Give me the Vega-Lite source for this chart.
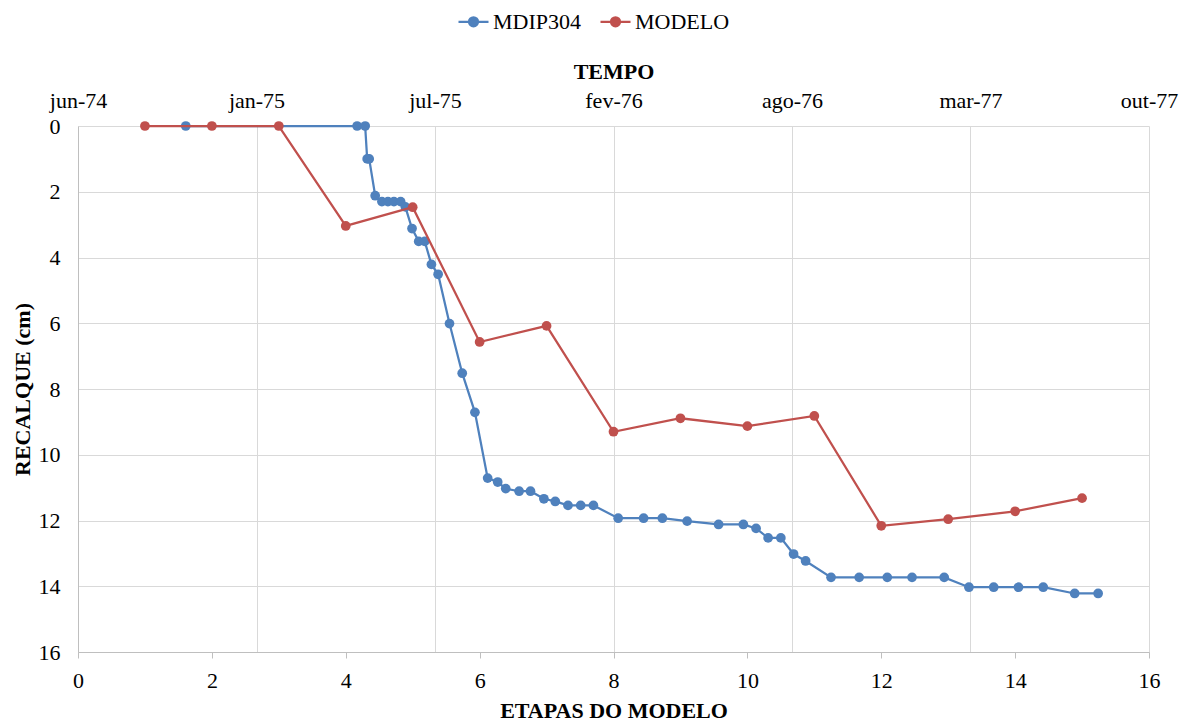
{
  "$schema": "https://vega.github.io/schema/vega-lite/v6.json",
  "width": 1071,
  "height": 526,
  "autosize": "none",
  "padding": {"left": 78, "top": 126, "right": 41, "bottom": 70},
  "background": "white",
  "config": {
    "view": {"stroke": null},
    "font": "'Liberation Serif', 'Times New Roman', 'DejaVu Serif', serif",
    "axis": {
      "labelFont": "'Liberation Serif', 'Times New Roman', 'DejaVu Serif', serif",
      "titleFont": "'Liberation Serif', 'Times New Roman', 'DejaVu Serif', serif",
      "labelFontSize": 22,
      "titleFontSize": 22,
      "labelColor": "#000000",
      "titleColor": "#000000",
      "gridColor": "#D9D9D9",
      "gridWidth": 1,
      "domainColor": "#BFBFBF",
      "tickColor": "#BFBFBF"
    },
    "legend": {
      "labelFont": "'Liberation Serif', 'Times New Roman', 'DejaVu Serif', serif"
    }
  },
  "datasets": {
    "mdip": [
      {"etapa": 1.61, "recalque": 0, "serie": "MDIP304"},
      {"etapa": 4.17, "recalque": 0, "serie": "MDIP304"},
      {"etapa": 4.29, "recalque": 0, "serie": "MDIP304"},
      {"etapa": 4.32, "recalque": 1.0, "serie": "MDIP304"},
      {"etapa": 4.35, "recalque": 1.0, "serie": "MDIP304"},
      {"etapa": 4.44, "recalque": 2.12, "serie": "MDIP304"},
      {"etapa": 4.54, "recalque": 2.3, "serie": "MDIP304"},
      {"etapa": 4.63, "recalque": 2.3, "serie": "MDIP304"},
      {"etapa": 4.72, "recalque": 2.3, "serie": "MDIP304"},
      {"etapa": 4.82, "recalque": 2.3, "serie": "MDIP304"},
      {"etapa": 4.89, "recalque": 2.46, "serie": "MDIP304"},
      {"etapa": 4.99, "recalque": 3.12, "serie": "MDIP304"},
      {"etapa": 5.09, "recalque": 3.51, "serie": "MDIP304"},
      {"etapa": 5.18, "recalque": 3.51, "serie": "MDIP304"},
      {"etapa": 5.28, "recalque": 4.21, "serie": "MDIP304"},
      {"etapa": 5.38, "recalque": 4.51, "serie": "MDIP304"},
      {"etapa": 5.55, "recalque": 6.01, "serie": "MDIP304"},
      {"etapa": 5.74, "recalque": 7.52, "serie": "MDIP304"},
      {"etapa": 5.93, "recalque": 8.71, "serie": "MDIP304"},
      {"etapa": 6.12, "recalque": 10.71, "serie": "MDIP304"},
      {"etapa": 6.27, "recalque": 10.83, "serie": "MDIP304"},
      {"etapa": 6.39, "recalque": 11.03, "serie": "MDIP304"},
      {"etapa": 6.59, "recalque": 11.11, "serie": "MDIP304"},
      {"etapa": 6.76, "recalque": 11.11, "serie": "MDIP304"},
      {"etapa": 6.96, "recalque": 11.34, "serie": "MDIP304"},
      {"etapa": 7.13, "recalque": 11.42, "serie": "MDIP304"},
      {"etapa": 7.32, "recalque": 11.54, "serie": "MDIP304"},
      {"etapa": 7.51, "recalque": 11.54, "serie": "MDIP304"},
      {"etapa": 7.7, "recalque": 11.54, "serie": "MDIP304"},
      {"etapa": 8.07, "recalque": 11.93, "serie": "MDIP304"},
      {"etapa": 8.45, "recalque": 11.93, "serie": "MDIP304"},
      {"etapa": 8.73, "recalque": 11.93, "serie": "MDIP304"},
      {"etapa": 9.1, "recalque": 12.02, "serie": "MDIP304"},
      {"etapa": 9.57, "recalque": 12.12, "serie": "MDIP304"},
      {"etapa": 9.94, "recalque": 12.12, "serie": "MDIP304"},
      {"etapa": 10.13, "recalque": 12.24, "serie": "MDIP304"},
      {"etapa": 10.31, "recalque": 12.53, "serie": "MDIP304"},
      {"etapa": 10.5, "recalque": 12.53, "serie": "MDIP304"},
      {"etapa": 10.69, "recalque": 13.02, "serie": "MDIP304"},
      {"etapa": 10.87, "recalque": 13.23, "serie": "MDIP304"},
      {"etapa": 11.25, "recalque": 13.73, "serie": "MDIP304"},
      {"etapa": 11.67, "recalque": 13.73, "serie": "MDIP304"},
      {"etapa": 12.09, "recalque": 13.73, "serie": "MDIP304"},
      {"etapa": 12.46, "recalque": 13.73, "serie": "MDIP304"},
      {"etapa": 12.94, "recalque": 13.73, "serie": "MDIP304"},
      {"etapa": 13.31, "recalque": 14.03, "serie": "MDIP304"},
      {"etapa": 13.68, "recalque": 14.03, "serie": "MDIP304"},
      {"etapa": 14.05, "recalque": 14.03, "serie": "MDIP304"},
      {"etapa": 14.42, "recalque": 14.03, "serie": "MDIP304"},
      {"etapa": 14.89, "recalque": 14.22, "serie": "MDIP304"},
      {"etapa": 15.24, "recalque": 14.22, "serie": "MDIP304"}
    ],
    "modelo": [
      {"etapa": 1, "recalque": 0, "serie": "MODELO"},
      {"etapa": 2, "recalque": 0, "serie": "MODELO"},
      {"etapa": 3, "recalque": 0, "serie": "MODELO"},
      {"etapa": 4, "recalque": 3.04, "serie": "MODELO"},
      {"etapa": 5, "recalque": 2.47, "serie": "MODELO"},
      {"etapa": 6, "recalque": 6.57, "serie": "MODELO"},
      {"etapa": 7, "recalque": 6.08, "serie": "MODELO"},
      {"etapa": 8, "recalque": 9.3, "serie": "MODELO"},
      {"etapa": 9, "recalque": 8.89, "serie": "MODELO"},
      {"etapa": 10, "recalque": 9.13, "serie": "MODELO"},
      {"etapa": 11, "recalque": 8.82, "serie": "MODELO"},
      {"etapa": 12, "recalque": 12.16, "serie": "MODELO"},
      {"etapa": 13, "recalque": 11.96, "serie": "MODELO"},
      {"etapa": 14, "recalque": 11.72, "serie": "MODELO"},
      {"etapa": 15, "recalque": 11.32, "serie": "MODELO"}
    ]
  },
  "layer": [
    {
      "data": {"name": "mdip"},
      "mark": {"type": "line", "point": {"filled": true, "size": 95, "opacity": 1}, "strokeWidth": 2.25},
      "encoding": {
        "x": {
          "field": "etapa", "type": "quantitative",
          "scale": {"domain": [0, 16], "nice": false, "zero": false},
          "axis": {
            "orient": "bottom", "title": "ETAPAS DO MODELO",
            "values": [0, 2, 4, 6, 8, 10, 12, 14, 16],
            "grid": false, "ticks": true, "tickSize": 6, "labelPadding": 12,
            "titleFontWeight": "bold", "titleBaseline": "alphabetic", "titleY": 65, "titleX": 535.5,
            "labelFlush": false, "labelOverlap": false, "labelBound": false
          }
        },
        "y": {
          "field": "recalque", "type": "quantitative",
          "scale": {"domain": [0, 16], "reverse": true, "nice": false},
          "axis": {
            "title": "RECALQUE (cm)", "values": [0, 2, 4, 6, 8, 10, 12, 14, 16],
            "grid": true, "ticks": false, "tickSize": 0, "labelPadding": 18,
            "titleFontWeight": "bold", "titleBaseline": "alphabetic", "titleAngle": -90,
            "titleX": -49, "titleY": 263, "labelFlush": false, "labelOverlap": false
          }
        },
        "color": {
          "field": "serie", "type": "nominal",
          "scale": {"domain": ["MDIP304", "MODELO"], "range": ["#4F81BD", "#C0504D"]},
          "legend": {
            "orient": "none", "legendX": 379, "legendY": -121, "direction": "horizontal",
            "title": null, "labelFontSize": 22, "labelColor": "#000000",
            "symbolType": "M-1,0L1,0M-0.3,0A0.3,0.3,0,1,0,0.3,0A0.3,0.3,0,1,0,-0.3,0Z",
            "symbolSize": 900, "symbolStrokeWidth": 2.25, "labelOffset": 3, "columnPadding": 14,
            "encode": {"symbols": {"update": {
              "fill": {"scale": "color", "field": "value"},
              "stroke": {"scale": "color", "field": "value"},
              "strokeWidth": {"value": 2.25},
              "opacity": {"value": 1}
            }}}
          }
        }
      }
    },
    {
      "data": {"name": "modelo"},
      "mark": {"type": "line", "point": {"filled": true, "size": 95, "opacity": 1}, "strokeWidth": 2.25},
      "encoding": {
        "x": {
          "field": "etapa", "type": "quantitative",
          "scale": {"domain": [0, 16], "nice": false, "zero": false},
          "axis": {
            "orient": "top", "title": "TEMPO",
            "values": [0, 2.666667, 5.333333, 8, 10.666667, 13.333333, 16],
            "labelExpr": "['jun-74','jan-75','jul-75','fev-76','ago-76','mar-77','out-77'][round(datum.value*3/8)]",
            "grid": true, "ticks": false, "tickSize": 0, "domain": false, "labelPadding": 14,
            "titleFontWeight": "bold", "titleBaseline": "alphabetic", "titleY": -48, "titleX": 535.5,
            "labelFlush": false, "labelOverlap": false, "labelBound": false
          }
        },
        "y": {
          "field": "recalque", "type": "quantitative",
          "scale": {"domain": [0, 16], "reverse": true, "nice": false}
        },
        "color": {
          "field": "serie", "type": "nominal",
          "scale": {"domain": ["MDIP304", "MODELO"], "range": ["#4F81BD", "#C0504D"]}
        }
      }
    }
  ],
  "resolve": {"axis": {"x": "independent"}}
}
